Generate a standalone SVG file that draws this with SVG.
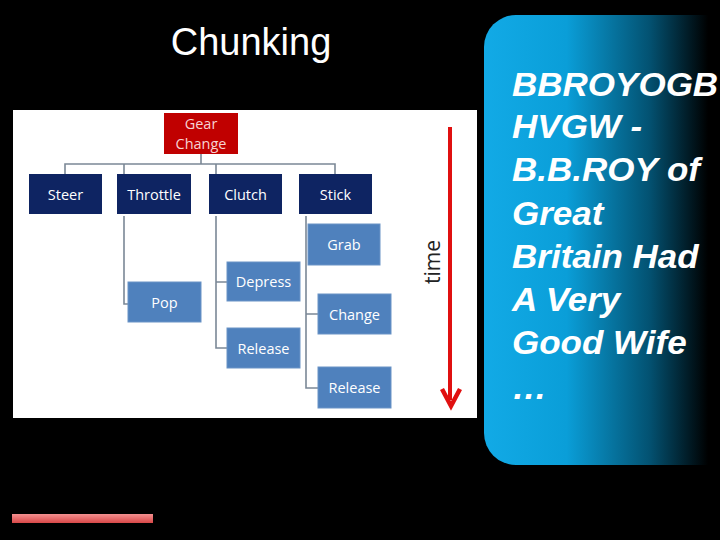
<svg xmlns="http://www.w3.org/2000/svg" width="720" height="540" viewBox="0 0 720 540">
<defs>
<linearGradient id="pg" x1="484" y1="0" x2="720" y2="0" gradientUnits="userSpaceOnUse">
<stop offset="0" stop-color="#12AAE6"/>
<stop offset="0.35" stop-color="#0A9ED8"/>
<stop offset="0.7" stop-color="#035272"/>
<stop offset="0.95" stop-color="#000000"/>
</linearGradient>
<linearGradient id="bar" x1="0" y1="0" x2="0" y2="1">
<stop offset="0" stop-color="#F49090"/>
<stop offset="1" stop-color="#D84848"/>
</linearGradient>
<style>
.t{font-family:"Open Sans","Noto Sans",sans-serif;font-size:14.5px;fill:#fff;text-anchor:middle;dominant-baseline:central}
.l2{fill:#0E2462}
.l3{fill:#4F81BD;stroke:#6A93C6;stroke-width:1}
.c{stroke:#7B8896;stroke-width:1.6;fill:none}
.m{font-family:"Liberation Sans",Arial,sans-serif;font-size:34px;font-weight:bold;font-style:italic;fill:#fff}
</style>
</defs>
<rect width="720" height="540" fill="#000"/>
<text x="251" y="55" font-family="Liberation Sans, Arial, sans-serif" font-size="38" fill="#fff" text-anchor="middle">Chunking</text>
<rect x="13" y="110" width="464" height="308" fill="#fff"/>
<g id="connectors">
<path class="c" d="M201 154V164M65 174V164H335V174M124 164V174M216 164V174"/>
<path class="c" d="M124 216V304H128"/>
<path class="c" d="M216 216V348H227M216 282H227"/>
<path class="c" d="M306 216V388H318M306 314H318"/>
</g>
<g id="gear"><rect x="164" y="113" width="74" height="41" fill="#C00000"/><text class="t" x="201" y="123" style="fill:#F6D2D2">Gear</text><text class="t" x="201" y="143" style="fill:#F6D2D2">Change</text></g>
<g id="steer"><rect class="l2" x="29" y="174" width="73" height="40"/><text class="t" x="65.5" y="194">Steer</text></g>
<g id="throttle"><rect class="l2" x="117" y="174" width="74" height="40"/><text class="t" x="154" y="194">Throttle</text></g>
<g id="clutch"><rect class="l2" x="209" y="174" width="73" height="40"/><text class="t" x="245.5" y="194">Clutch</text></g>
<g id="stick"><rect class="l2" x="299" y="174" width="73" height="40"/><text class="t" x="335.5" y="194">Stick</text></g>
<g id="pop"><rect class="l3" x="128" y="282" width="73" height="40"/><text class="t" x="164.5" y="302">Pop</text></g>
<g id="depress"><rect class="l3" x="227" y="262" width="73" height="39"/><text class="t" x="263.5" y="281.5">Depress</text></g>
<g id="release1"><rect class="l3" x="227" y="328" width="73" height="40"/><text class="t" x="263.5" y="348">Release</text></g>
<g id="grab"><rect class="l3" x="308" y="224" width="72" height="41"/><text class="t" x="344" y="244.5">Grab</text></g>
<g id="change"><rect class="l3" x="318" y="294" width="73" height="40"/><text class="t" x="354.5" y="314">Change</text></g>
<g id="release2"><rect class="l3" x="318" y="367" width="73" height="41"/><text class="t" x="354.5" y="387.5">Release</text></g>
<g id="time">
<path d="M450 127V400" stroke="#E01010" stroke-width="4" fill="none"/>
<path d="M442 389L451 406L460 389" stroke="#E01010" stroke-width="4.5" fill="none" stroke-linejoin="miter"/>
<text x="432" y="262" transform="rotate(-90 432 262)" font-family="Open Sans, Noto Sans, sans-serif" font-size="21" fill="#222" text-anchor="middle" dominant-baseline="central">time</text>
</g>
<g id="panel">
<rect x="484" y="15" width="270" height="450" rx="32" fill="url(#pg)"/>
<g transform="translate(512 0) scale(1.03 1) translate(-512 0)">
<text class="m" x="512" y="96">BBROYOGB</text>
<text class="m" x="512" y="138">HVGW -</text>
<text class="m" x="512" y="181">B.B.ROY of</text>
<text class="m" x="512" y="225">Great</text>
<text class="m" x="512" y="268">Britain Had</text>
<text class="m" x="512" y="311">A Very</text>
<text class="m" x="512" y="354">Good Wife</text>
<text class="m" x="512" y="399">…</text>
</g>
</g>
<rect x="12" y="514" width="141" height="9" fill="url(#bar)"/>
</svg>
